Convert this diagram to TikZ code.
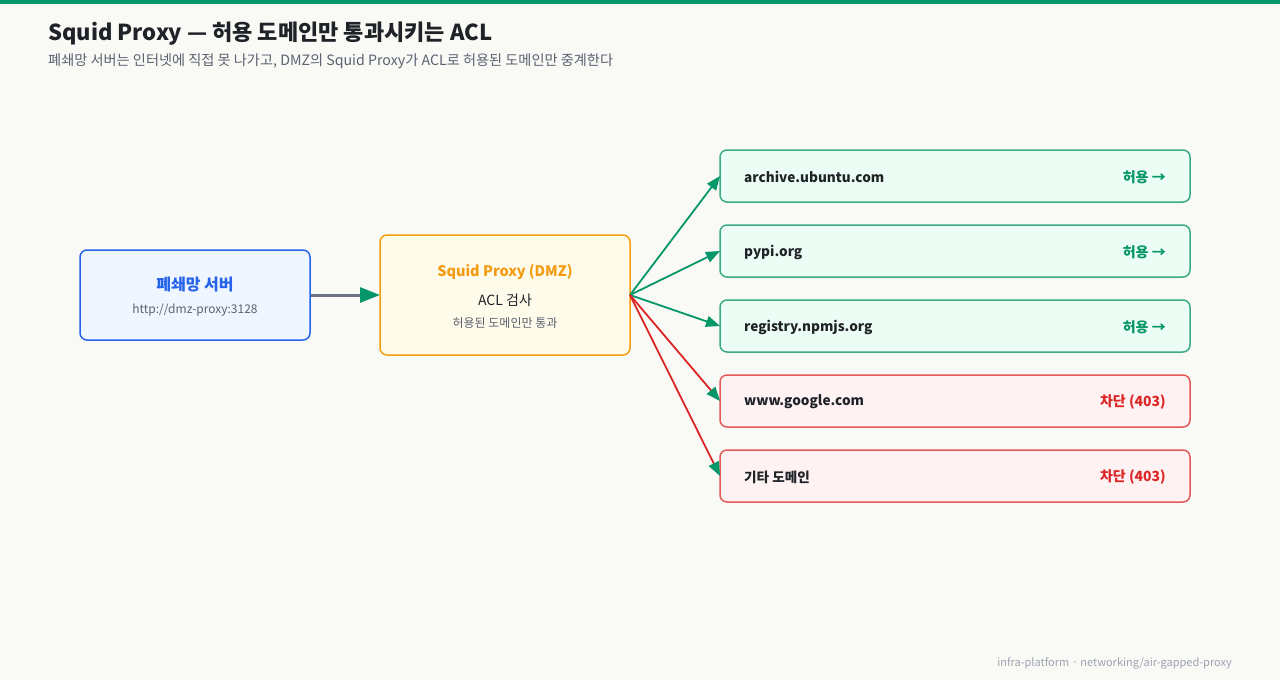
\documentclass[tikz,border=0pt]{standalone}
\usepackage{fontspec}
\setmainfont{Noto Sans CJK KR}
\usetikzlibrary{arrows.meta}
\definecolor{bg}{HTML}{F9F9F6}
\definecolor{topbar}{HTML}{059669}
\definecolor{ink}{HTML}{1F2328}
\definecolor{sub}{HTML}{5B6270}
\definecolor{foot}{HTML}{9CA3AF}
\definecolor{blueline}{HTML}{2563EB}
\definecolor{bluefill}{HTML}{EFF6FF}
\definecolor{orline}{HTML}{F59E0B}
\definecolor{orfill}{HTML}{FFFBEB}
\definecolor{orText}{HTML}{F39C12}
\definecolor{grline}{HTML}{3BAA85}
\definecolor{grfill}{HTML}{ECFDF5}
\definecolor{grtext}{HTML}{059669}
\definecolor{rdline}{HTML}{E05A5A}
\definecolor{rdfill}{HTML}{FEF2F2}
\definecolor{rdtext}{HTML}{DC2626}
\definecolor{greyarrow}{HTML}{6B7280}
\tikzset{
  px/.style={x=1pt,y=-1pt},
  box/.style={draw, rounded corners=7pt, line width=1.5pt},
  okbox/.style={box, draw=grline, fill=grfill},
  nobox/.style={box, draw=rdline, fill=rdfill},
  dom/.style={anchor=west, inner sep=0, font=\fontsize{13.6}{16}\selectfont\bfseries, text=ink},
  okl/.style={anchor=east, inner sep=0, font=\fontsize{14}{16}\selectfont\bfseries, text=grtext},
  nol/.style={anchor=east, inner sep=0, font=\fontsize{14}{16}\selectfont\bfseries, text=rdtext},
  conn/.style={line width=1.8pt, -{Triangle[length=14pt,width=11pt,color=topbar]}},
  bigconn/.style={line width=3pt, draw=greyarrow, -{Triangle[length=20pt,width=15pt,color=topbar]}},
}
\begin{document}
\begin{tikzpicture}[px]
\useasboundingbox (0,0) rectangle (1280,680);
\fill[bg] (0,0) rectangle (1280,680);
\fill[topbar] (0,0) rectangle (1280,4);
\node[anchor=base west, inner sep=0, font=\fontsize{22}{26}\selectfont\bfseries, text=ink] (title) at (48,40) {Squid Proxy — 허용 도메인만 통과시키는 ACL};
\node[anchor=base west, inner sep=0, font=\fontsize{14.2}{17}\selectfont, text=sub] (subtitle) at (48,65) {폐쇄망 서버는 인터넷에 직접 못 나가고, DMZ의 Squid Proxy가 ACL로 허용된 도메인만 중계한다};

% server
\draw[box, draw=blueline, fill=bluefill] (80,250) rectangle (310,340);
\node[font=\fontsize{16}{19}\selectfont\bfseries, text=blueline] (srvt) at (195,285) {폐쇄망 서버};
\node[font=\fontsize{12}{14}\selectfont, text=sub] (srvs) at (195,310) {http://dmz-proxy:3128};
\coordinate (srvE) at (311,295);

% proxy
\draw[box, draw=orline, fill=orfill] (380,235) rectangle (630,355);
\node[font=\fontsize{14.5}{17}\selectfont\bfseries, text=orText] (pxt) at (505,272) {Squid Proxy (DMZ)};
\node[font=\fontsize{14}{17}\selectfont, text=ink] (pxa) at (505,300.5) {ACL 검사};
\node[font=\fontsize{12}{14}\selectfont, text=sub] (pxs) at (505,323.5) {허용된 도메인만 통과};
\coordinate (pxW) at (380,295);
\coordinate (pxE) at (630,295);

\draw[bigconn] (srvE) -- (pxW);

% targets
\draw[okbox] (720,150) rectangle (1190,202); \coordinate (t1) at (720,176);
\draw[okbox] (720,225) rectangle (1190,277); \coordinate (t2) at (720,251);
\draw[okbox] (720,300) rectangle (1190,352); \coordinate (t3) at (720,326);
\draw[nobox] (720,375) rectangle (1190,427); \coordinate (t4) at (720,401);
\draw[nobox] (720,450) rectangle (1190,502); \coordinate (t5) at (720,476);

\node[dom] (d1) at (744,177) {archive.ubuntu.com};
\node[dom] (d2) at (744,252) {pypi.org};
\node[dom] (d3) at (744,327) {registry.npmjs.org};
\node[dom] (d4) at (744,402) {www.google.com};
\node[dom] (d5) at (744,477) {기타 도메인};
\node[okl] (s1) at (1166,177) {허용 →};
\node[okl] (s2) at (1166,252) {허용 →};
\node[okl] (s3) at (1166,327) {허용 →};
\node[nol] (s4) at (1166,402) {차단 (403)};
\node[nol] (s5) at (1166,477) {차단 (403)};

\draw[conn, draw=grtext] (pxE) -- (t1);
\draw[conn, draw=grtext] (pxE) -- (t2);
\draw[conn, draw=grtext] (pxE) -- (t3);
\draw[conn, draw=rdtext] (pxE) -- (t4);
\draw[conn, draw=rdtext] (pxE) -- (t5);

\node[anchor=base east, inner sep=0, font=\fontsize{11}{13}\selectfont, text=foot] (footer) at (1232,666) {infra-platform · networking/air-gapped-proxy};
\end{tikzpicture}
\end{document}
